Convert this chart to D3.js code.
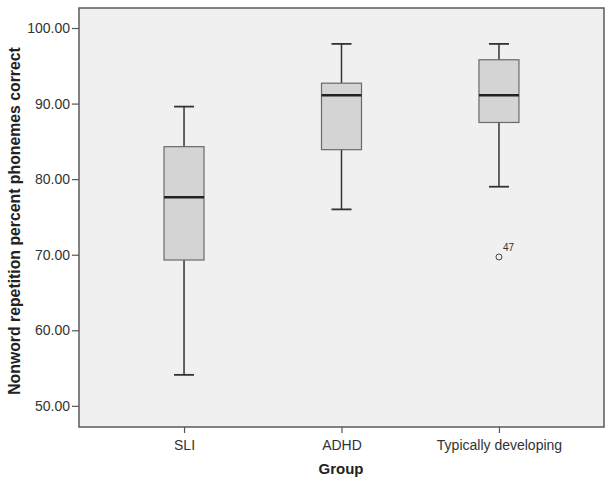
<!DOCTYPE html>
<html><head><meta charset="utf-8">
<script src="https://cdn.jsdelivr.net/npm/d3@7"></script>
<style>body{margin:0;background:#fff;} svg{display:block;}</style>
</head><body>
<svg id="chart" width="612" height="484"></svg>
<script>
const categories = ["SLI", "ADHD", "Typically developing"];
const whiskerLow = [54.1, 76.0, 79.0];
const q1 = [69.3, 83.9, 87.5];
const median = [77.6, 91.1, 91.1];
const q3 = [84.3, 92.7, 95.8];
const whiskerHigh = [89.6, 97.9, 97.9];
const outliers = [{group: "Typically developing", value: 69.7, label: "47"}];
const yTicks = [50, 60, 70, 80, 90, 100];

const svg = d3.select("#chart");
const m = {left: 79, right: 8, top: 8, bottom: 57};
const W = 612, H = 484;
const x0 = m.left, x1 = W - m.right, y0 = m.top, y1 = H - m.bottom;
const FONT = "Arial, 'Liberation Sans', sans-serif";

const x = d3.scalePoint().domain(categories).range([x0, x1]).padding(0.667);
const y = d3.scaleLinear().domain([47.2, 102.65]).range([y1, y0]);

svg.append("rect").attr("x", x0).attr("y", y0).attr("width", x1 - x0).attr("height", y1 - y0)
  .attr("fill", "#f0f0f0").attr("stroke", "#5a5a5a").attr("stroke-width", 1.5);

const yAxis = svg.append("g").attr("transform", `translate(${x0},0)`)
  .call(d3.axisLeft(y).tickValues(yTicks).tickFormat(d3.format(".2f")).tickSize(7).tickPadding(2));
const xAxis = svg.append("g").attr("transform", `translate(0,${y1})`)
  .call(d3.axisBottom(x).tickSize(6).tickPadding(7));
[yAxis, xAxis].forEach(g => {
  g.select(".domain").remove();
  g.selectAll("line").attr("stroke", "#555").attr("stroke-width", 1.2);
  g.selectAll("text").attr("fill", "#333").style("font-family", FONT).style("font-size", "14px");
});

const data = categories.map((c, i) => ({c, lo: whiskerLow[i], q1: q1[i], med: median[i], q3: q3[i], hi: whiskerHigh[i]}));
const bw = 40, cap = 20;
const g = svg.append("g").selectAll("g").data(data).join("g");
g.append("line").attr("x1", d => x(d.c)).attr("x2", d => x(d.c)).attr("y1", d => y(d.hi)).attr("y2", d => y(d.q3)).attr("stroke", "#333").attr("stroke-width", 1.5);
g.append("line").attr("x1", d => x(d.c)).attr("x2", d => x(d.c)).attr("y1", d => y(d.q1)).attr("y2", d => y(d.lo)).attr("stroke", "#333").attr("stroke-width", 1.5);
g.append("line").attr("x1", d => x(d.c) - cap/2).attr("x2", d => x(d.c) + cap/2).attr("y1", d => y(d.hi)).attr("y2", d => y(d.hi)).attr("stroke", "#333").attr("stroke-width", 1.8);
g.append("line").attr("x1", d => x(d.c) - cap/2).attr("x2", d => x(d.c) + cap/2).attr("y1", d => y(d.lo)).attr("y2", d => y(d.lo)).attr("stroke", "#333").attr("stroke-width", 1.8);
g.append("rect").attr("x", d => x(d.c) - bw/2).attr("width", bw).attr("y", d => y(d.q3)).attr("height", d => y(d.q1) - y(d.q3))
  .attr("fill", "#d4d4d4").attr("stroke", "#6a6a6a").attr("stroke-width", 1.2);
g.append("line").attr("x1", d => x(d.c) - bw/2).attr("x2", d => x(d.c) + bw/2).attr("y1", d => y(d.med)).attr("y2", d => y(d.med)).attr("stroke", "#222").attr("stroke-width", 2.5);

svg.append("g").selectAll("g").data(outliers).join(enter => {
  const o = enter.append("g");
  o.append("circle").attr("cx", d => x(d.group)).attr("cy", d => y(d.value)).attr("r", 3).attr("fill", "none").attr("stroke", "#444").attr("stroke-width", 1);
  o.append("text").attr("x", d => x(d.group) + 4).attr("y", d => y(d.value) - 6).text(d => d.label)
    .attr("fill", "#333").style("font-family", FONT).style("font-size", "10px");
  return o;
});

svg.append("text").attr("transform", `translate(20,221) rotate(-90)`).attr("text-anchor", "middle")
  .text("Nonword repetition percent phonemes correct")
  .attr("fill", "#222").style("font-family", FONT).style("font-size", "15.8px").style("font-weight", "bold");
svg.append("text").attr("x", 341).attr("y", 474).attr("text-anchor", "middle").text("Group")
  .attr("fill", "#222").style("font-family", FONT).style("font-size", "15px").style("font-weight", "bold");
</script>
</body></html>
